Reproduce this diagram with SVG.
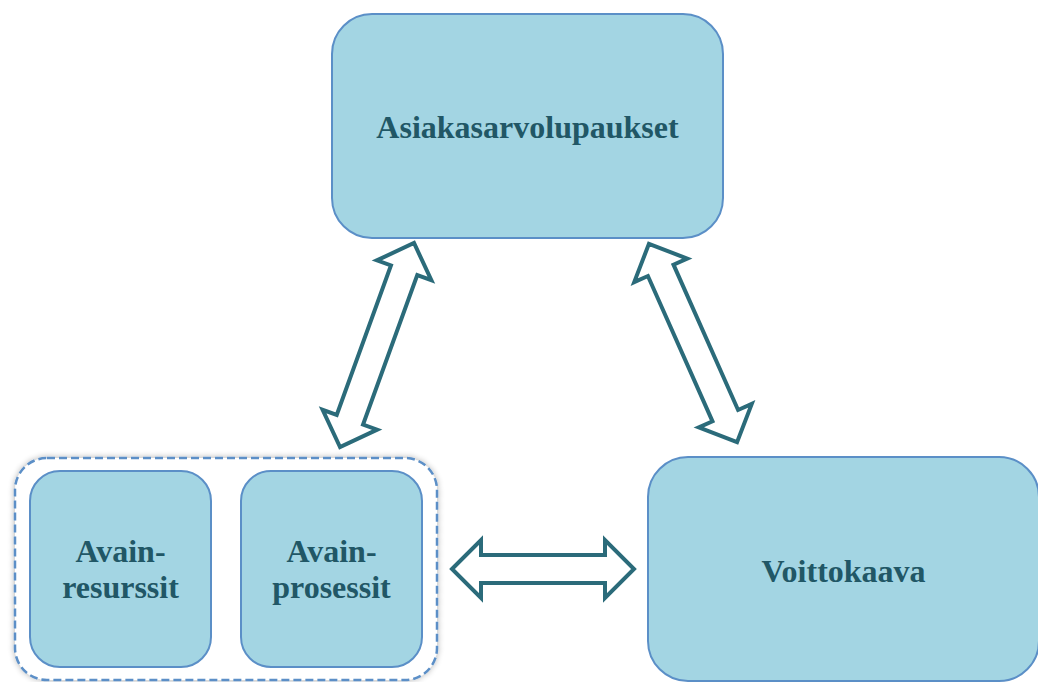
<svg xmlns="http://www.w3.org/2000/svg" width="1038" height="682" viewBox="0 0 1038 682">
<style>
.box{fill:#a3d5e3;stroke:#5b8fc7;stroke-width:2}
.lbl{font-family:"Liberation Serif","Times New Roman",serif;font-weight:bold;font-size:32px;fill:#215766;text-anchor:middle}
.arr{fill:#ffffff;stroke:#2b6b7a;stroke-width:4;stroke-linejoin:miter}
.grp{fill:#ffffff;stroke:#5b8fc7;stroke-width:2.5;stroke-dasharray:8 4}
</style>
<defs>
<filter id="sh" x="-10%" y="-10%" width="120%" height="120%">
<feGaussianBlur in="SourceAlpha" stdDeviation="3"/>
<feComponentTransfer><feFuncA type="linear" slope="0.3"/></feComponentTransfer>
<feMerge><feMergeNode/><feMergeNode in="SourceGraphic"/></feMerge>
</filter>
</defs>
<rect width="1038" height="682" fill="#ffffff"/>
<g id="asiakasarvolupaukset">
<rect class="box" x="332" y="14" width="391" height="224" rx="40" ry="40"/>
<text class="lbl" x="527.5" y="138">Asiakasarvolupaukset</text>
</g>
<g id="avain-group">
<rect class="grp" x="15" y="458" width="422" height="222" rx="32" ry="32" filter="url(#sh)"/>
</g>
<g id="avain-resurssit">
<rect class="box" x="30" y="471" width="181" height="196" rx="30" ry="30"/>
<text class="lbl" x="120.5" y="562">Avain-</text>
<text class="lbl" x="120.5" y="598">resurssit</text>
</g>
<g id="avain-prosessit">
<rect class="box" x="241" y="471" width="181" height="196" rx="30" ry="30"/>
<text class="lbl" x="331.5" y="562">Avain-</text>
<text class="lbl" x="331.5" y="598">prosessit</text>
</g>
<g id="voittokaava">
<rect class="box" x="648" y="457" width="391" height="224" rx="40" ry="40"/>
<text class="lbl" x="843.5" y="582">Voittokaava</text>
</g>
<g id="connectors">
<path class="arr" transform="translate(377 345) rotate(-70.06)" d="M-108.5 0 L-79.5 -29 L-79.5 -14 L79.5 -14 L79.5 -29 L108.5 0 L79.5 29 L79.5 14 L-79.5 14 L-79.5 29 Z"/>
<path class="arr" transform="translate(693 343) rotate(66.04)" d="M-108.5 0 L-79.5 -29 L-79.5 -14 L79.5 -14 L79.5 -29 L108.5 0 L79.5 29 L79.5 14 L-79.5 14 L-79.5 29 Z"/>
<path class="arr" transform="translate(543 569)" d="M-91 0 L-62 -29 L-62 -14 L62 -14 L62 -29 L91 0 L62 29 L62 14 L-62 14 L-62 29 Z"/>
</g>
</svg>
